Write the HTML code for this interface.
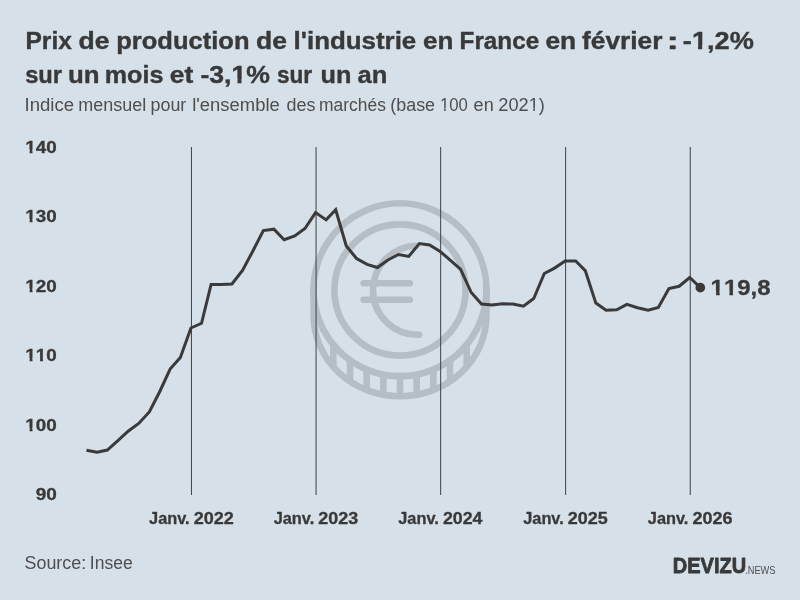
<!DOCTYPE html>
<html lang="fr"><head><meta charset="utf-8"><title>Prix de production de l'industrie en France</title>
<style>html,body{margin:0;padding:0;width:800px;height:600px;overflow:hidden;background:#d6e0e9;}svg{display:block}</style></head>
<body>
<svg width="800" height="600" viewBox="0 0 800 600">
<rect width="800" height="600" fill="#d6e0e9"/>
<g fill="none" stroke="#b5bdc5" stroke-width="6.6" stroke-linecap="round">
<circle cx="400" cy="289.7" r="86.45"/>
<circle cx="400" cy="290" r="65.6"/>
<path d="M313.55,289.7 V315.6 A86.45,80.7 0 0 0 486.45,315.6 V289.7"/>
<path d="M333.33,344.73 V366.97" stroke-linecap="butt"/>
<path d="M350.00,360.22 V381.43" stroke-linecap="butt"/>
<path d="M366.66,369.46 V390.06" stroke-linecap="butt"/>
<path d="M383.33,374.53 V394.79" stroke-linecap="butt"/>
<path d="M400.00,376.15 V396.30" stroke-linecap="butt"/>
<path d="M416.66,374.53 V394.79" stroke-linecap="butt"/>
<path d="M433.33,369.47 V390.06" stroke-linecap="butt"/>
<path d="M450.00,360.22 V381.43" stroke-linecap="butt"/>
<path d="M466.67,344.74 V366.98" stroke-linecap="butt"/>
<path d="M416,245.75 A44.5,44.5 0 0 0 419,334.7"/>
<path d="M363.6,283.25 H409.8 M363.6,299.8 H409.8"/>
</g>
<g stroke="#404040" stroke-width="1">
<line x1="191.45" x2="191.45" y1="147" y2="495"/>
<line x1="316.06" x2="316.06" y1="147" y2="495"/>
<line x1="440.67" x2="440.67" y1="147" y2="495"/>
<line x1="565.62" x2="565.62" y1="147" y2="495"/>
<line x1="690.24" x2="690.24" y1="147" y2="495"/>
</g>
<path d="M86.48,450.25 L97.06,452.25 L107.31,450.00 L117.89,440.60 L128.13,431.25 L138.72,423.50 L149.30,411.90 L159.54,392.00 L170.12,369.00 L180.37,357.50 L190.95,328.00 L201.53,323.30 L211.09,284.40 L221.68,284.60 L231.92,284.00 L242.50,270.50 L252.74,251.25 L263.33,230.60 L273.91,229.20 L284.15,239.75 L294.74,236.00 L304.98,228.50 L315.56,212.60 L326.14,219.90 L335.70,209.80 L346.29,246.00 L356.53,258.50 L367.11,264.40 L377.35,267.50 L387.94,260.00 L398.52,254.50 L408.76,256.40 L419.35,243.50 L429.59,245.00 L440.17,251.50 L450.76,260.60 L460.66,269.40 L471.24,292.50 L481.48,304.00 L492.06,305.00 L502.31,303.75 L512.89,304.00 L523.47,306.25 L533.72,298.50 L544.30,273.50 L554.54,268.10 L565.12,261.00 L575.71,260.90 L585.27,270.60 L595.85,303.10 L606.09,310.25 L616.68,309.75 L626.92,304.40 L637.50,307.75 L648.08,310.25 L658.33,307.50 L668.91,288.50 L679.15,286.25 L689.74,277.50 L700.32,287.65" fill="none" stroke="#3a3a3a" stroke-width="3" stroke-linejoin="miter" stroke-linecap="butt"/>
<circle cx="700.32" cy="287.65" r="4.85" fill="#3a3a3a"/>
<g font-family="Liberation Sans, Arial, Helvetica, sans-serif" stroke-linejoin="round">
<text id="t1" y="49.45" font-size="24.6" font-weight="700" stroke="#393939" stroke-width="0.4" fill="#393939"><tspan x="25.46" textLength="46.42" lengthAdjust="spacingAndGlyphs">Prix</tspan> <tspan x="78.51" textLength="30.94" lengthAdjust="spacingAndGlyphs">de</tspan> <tspan x="116.27" textLength="133.21" lengthAdjust="spacingAndGlyphs">production</tspan> <tspan x="256.01" textLength="30.94" lengthAdjust="spacingAndGlyphs">de</tspan> <tspan x="293.64" textLength="122.64" lengthAdjust="spacingAndGlyphs">l'industrie</tspan> <tspan x="422.93" textLength="30.38" lengthAdjust="spacingAndGlyphs">en</tspan> <tspan x="459.58" textLength="79.55" lengthAdjust="spacingAndGlyphs">France</tspan> <tspan x="545.42" textLength="30.77" lengthAdjust="spacingAndGlyphs">en</tspan> <tspan x="582.00" textLength="80.45" lengthAdjust="spacingAndGlyphs">février</tspan> <tspan x="666.64" textLength="12.32" lengthAdjust="spacingAndGlyphs">:</tspan> <tspan x="682.89" textLength="70.88" lengthAdjust="spacingAndGlyphs">-1,2%</tspan></text>
<text id="t2" y="83.45" font-size="24.6" font-weight="700" stroke="#393939" stroke-width="0.4" fill="#393939"><tspan x="25.17" textLength="36.89" lengthAdjust="spacingAndGlyphs">sur</tspan> <tspan x="68.00" textLength="31.50" lengthAdjust="spacingAndGlyphs">un</tspan> <tspan x="104.80" textLength="58.53" lengthAdjust="spacingAndGlyphs">mois</tspan> <tspan x="169.77" textLength="23.45" lengthAdjust="spacingAndGlyphs">et</tspan> <tspan x="200.41" textLength="69.49" lengthAdjust="spacingAndGlyphs">-3,1%</tspan> <tspan x="276.91" textLength="35.14" lengthAdjust="spacingAndGlyphs">sur</tspan> <tspan x="320.53" textLength="30.83" lengthAdjust="spacingAndGlyphs">un</tspan> <tspan x="357.55" textLength="29.83" lengthAdjust="spacingAndGlyphs">an</tspan></text>
<text id="sub" y="110.6" font-size="17.5" font-weight="400" fill="#4e4e4e"><tspan x="24.54" textLength="49.54" lengthAdjust="spacingAndGlyphs">Indice</tspan> <tspan x="78.31" textLength="67.89" lengthAdjust="spacingAndGlyphs">mensuel</tspan> <tspan x="150.60" textLength="35.70" lengthAdjust="spacingAndGlyphs">pour</tspan> <tspan x="192.26" textLength="87.56" lengthAdjust="spacingAndGlyphs">l'ensemble</tspan> <tspan x="286.50" textLength="28.90" lengthAdjust="spacingAndGlyphs">des</tspan> <tspan x="319.09" textLength="66.84" lengthAdjust="spacingAndGlyphs">marchés</tspan> <tspan x="390.29" textLength="44.75" lengthAdjust="spacingAndGlyphs">(base</tspan> <tspan x="439.98" textLength="27.88" lengthAdjust="spacingAndGlyphs">100</tspan> <tspan x="473.63" textLength="20.03" lengthAdjust="spacingAndGlyphs">en</tspan> <tspan x="498.33" textLength="46.54" lengthAdjust="spacingAndGlyphs">2021)</tspan></text>
<text id="val" y="294.8" font-size="21.5" font-weight="700" stroke="#393939" stroke-width="0.3" style="font-kerning:none" fill="#393939"><tspan x="710.64" textLength="59.95" lengthAdjust="spacingAndGlyphs">119,8</tspan></text>
<text id="src" y="568.6" font-size="17.5" font-weight="400" fill="#4e4e4e"><tspan x="24.59" textLength="61.54" lengthAdjust="spacingAndGlyphs">Source:</tspan> <tspan x="89.88" textLength="42.90" lengthAdjust="spacingAndGlyphs">Insee</tspan></text>
<text id="logo" y="573.4" font-size="22" font-weight="700" stroke="#393939" stroke-width="0.8" fill="#393939"><tspan x="672.86" textLength="73.26" lengthAdjust="spacingAndGlyphs">DEVIZU</tspan></text>
<text id="news" y="574" font-size="11.6" font-weight="400" fill="#4e4e4e"><tspan x="745.16" textLength="30.27" lengthAdjust="spacingAndGlyphs">.NEWS</tspan></text>
<text id="y140" y="152.95" font-size="17.2" font-weight="700" stroke="#393939" stroke-width="0.3" style="font-kerning:none" fill="#393939"><tspan x="25.36" textLength="31.46" lengthAdjust="spacingAndGlyphs">140</tspan></text>
<text id="y130" y="222.45" font-size="17.2" font-weight="700" stroke="#393939" stroke-width="0.3" style="font-kerning:none" fill="#393939"><tspan x="25.36" textLength="31.46" lengthAdjust="spacingAndGlyphs">130</tspan></text>
<text id="y120" y="291.95" font-size="17.2" font-weight="700" stroke="#393939" stroke-width="0.3" style="font-kerning:none" fill="#393939"><tspan x="25.36" textLength="31.46" lengthAdjust="spacingAndGlyphs">120</tspan></text>
<text id="y110" y="361.45" font-size="17.2" font-weight="700" stroke="#393939" stroke-width="0.3" style="font-kerning:none" fill="#393939"><tspan x="25.36" textLength="31.46" lengthAdjust="spacingAndGlyphs">110</tspan></text>
<text id="y100" y="430.95" font-size="17.2" font-weight="700" stroke="#393939" stroke-width="0.3" style="font-kerning:none" fill="#393939"><tspan x="25.36" textLength="31.46" lengthAdjust="spacingAndGlyphs">100</tspan></text>
<text id="y90" y="500.45" font-size="17.2" font-weight="700" stroke="#393939" stroke-width="0.3" style="font-kerning:none" fill="#393939"><tspan x="35.69" textLength="21.14" lengthAdjust="spacingAndGlyphs">90</tspan></text>
<text id="x2022" y="523.8" font-size="16.4" font-weight="700" stroke="#393939" stroke-width="0.3" fill="#393939"><tspan x="149.05" textLength="40.57" lengthAdjust="spacingAndGlyphs">Janv.</tspan> <tspan x="193.67" textLength="40.15" lengthAdjust="spacingAndGlyphs">2022</tspan></text>
<text id="x2023" y="523.8" font-size="16.4" font-weight="700" stroke="#393939" stroke-width="0.3" fill="#393939"><tspan x="273.66" textLength="40.57" lengthAdjust="spacingAndGlyphs">Janv.</tspan> <tspan x="318.29" textLength="40.08" lengthAdjust="spacingAndGlyphs">2023</tspan></text>
<text id="x2024" y="523.8" font-size="16.4" font-weight="700" stroke="#393939" stroke-width="0.3" fill="#393939"><tspan x="398.27" textLength="40.57" lengthAdjust="spacingAndGlyphs">Janv.</tspan> <tspan x="442.91" textLength="39.51" lengthAdjust="spacingAndGlyphs">2024</tspan></text>
<text id="x2025" y="523.8" font-size="16.4" font-weight="700" stroke="#393939" stroke-width="0.3" fill="#393939"><tspan x="523.23" textLength="40.57" lengthAdjust="spacingAndGlyphs">Janv.</tspan> <tspan x="567.85" textLength="39.92" lengthAdjust="spacingAndGlyphs">2025</tspan></text>
<text id="x2026" y="523.8" font-size="16.4" font-weight="700" stroke="#393939" stroke-width="0.3" fill="#393939"><tspan x="647.84" textLength="40.57" lengthAdjust="spacingAndGlyphs">Janv.</tspan> <tspan x="692.46" textLength="40.08" lengthAdjust="spacingAndGlyphs">2026</tspan></text>
</g>
<g fill="#d6e0e9"><rect x="692.23" y="45.14" width="5.82" height="6.01"/><rect x="702.18" y="45.14" width="4.78" height="6.01"/><rect x="231.71" y="79.14" width="5.73" height="6.01"/><rect x="241.50" y="79.14" width="4.70" height="6.01"/><rect x="440.05" y="107.69" width="4.13" height="4.41"/><rect x="445.66" y="107.69" width="3.30" height="4.41"/><rect x="528.86" y="107.69" width="4.39" height="4.41"/><rect x="534.86" y="107.69" width="3.55" height="4.41"/><rect x="710.80" y="290.86" width="5.28" height="5.59"/><rect x="719.67" y="290.86" width="4.28" height="5.59"/><rect x="724.12" y="290.86" width="5.28" height="5.59"/><rect x="732.98" y="290.86" width="4.28" height="5.59"/><rect x="25.20" y="149.44" width="4.42" height="5.16"/><rect x="32.50" y="149.44" width="3.48" height="5.16"/><rect x="25.20" y="218.94" width="4.42" height="5.16"/><rect x="32.50" y="218.94" width="3.48" height="5.16"/><rect x="25.20" y="288.44" width="4.42" height="5.16"/><rect x="32.50" y="288.44" width="3.48" height="5.16"/><rect x="25.20" y="357.94" width="4.42" height="5.16"/><rect x="32.50" y="357.94" width="3.48" height="5.16"/><rect x="35.67" y="357.94" width="4.42" height="5.16"/><rect x="42.97" y="357.94" width="3.48" height="5.16"/><rect x="25.20" y="427.44" width="4.42" height="5.16"/><rect x="32.50" y="427.44" width="3.48" height="5.16"/></g>
</svg>
</body></html>
